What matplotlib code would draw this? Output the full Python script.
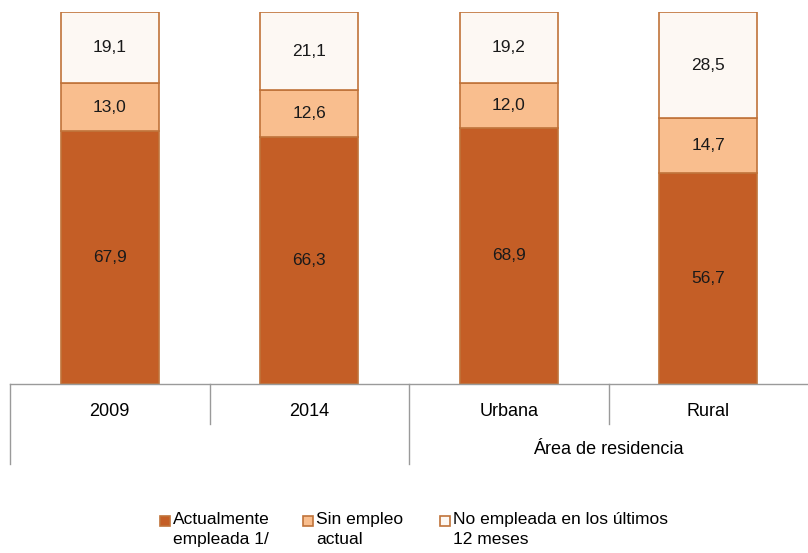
import matplotlib.pyplot as plt
from matplotlib.patches import Rectangle
import matplotlib.transforms as mtransforms

plt.rcParams['font.family'] = ['Liberation Sans', 'DejaVu Sans']

categories = ["2009", "2014", "Urbana", "Rural"]
group_label = "Área de residencia"
empleada = [67.9, 66.3, 68.9, 56.7]
sin_empleo = [13.0, 12.6, 12.0, 14.7]
no_empleada = [19.1, 21.1, 19.2, 28.5]
series_names = ["Actualmente\nempleada 1/", "Sin empleo\nactual", "No empleada en los últimos\n12 meses"]
colors = ["#C45E26", "#F9BE8E", "#FDF8F3"]
edge = "#C0733A"

W, H = 808, 553
fig = plt.figure(figsize=(W / 100, H / 100), dpi=100)
ax = fig.add_axes([10 / W, (H - 384) / H, 798 / W, 372 / H])

x = list(range(len(categories)))
bottom = [0] * len(x)
for vals, c in zip([empleada, sin_empleo, no_empleada], colors):
    ax.bar(x, vals, bottom=bottom, width=0.49, color=c, edgecolor=edge, linewidth=1.2)
    for xi, b, v in zip(x, bottom, vals):
        ax.text(xi, b + v / 2, f"{v:.1f}".replace(".", ","), ha="center", va="center",
                fontsize=12.5, color="#1a1a1a")
    bottom = [b + v for b, v in zip(bottom, vals)]

ax.set_xlim(-0.5, len(x) - 0.5)
ax.set_ylim(0, 100)
ax.axis("off")

# multi-level category axis
tr = mtransforms.blended_transform_factory(ax.transData, ax.transAxes)
px = 1 / 372
grey = "#9a9a9a"
ax.plot([-0.5, 3.5], [0, 0], color=grey, lw=1, transform=tr, clip_on=False)
for xs, depth in [(-0.5, 80), (0.5, 40), (1.5, 80), (2.5, 40)]:
    ax.plot([xs, xs], [0, -depth * px], color=grey, lw=1, transform=tr, clip_on=False)
for xi, lab in zip(x, categories):
    ax.text(xi, -27 * px, lab, ha="center", va="center", fontsize=13, transform=tr)
ax.text(2.5, -65 * px, group_label, ha="center", va="center", fontsize=13, transform=tr)

# legend
leg_x = [160, 303, 440]
for lx, name, c in zip(leg_x, series_names, colors):
    fig.patches.append(Rectangle((lx / W, 1 - 526 / H), 10 / W, 10 / H, transform=fig.transFigure,
                                 facecolor=c, edgecolor=edge, linewidth=1.2))
    fig.text((lx + 13) / W, 1 - 512 / H, name, ha="left", va="top", fontsize=12.5, linespacing=1.45)

fig.savefig("out.png", dpi=100)
